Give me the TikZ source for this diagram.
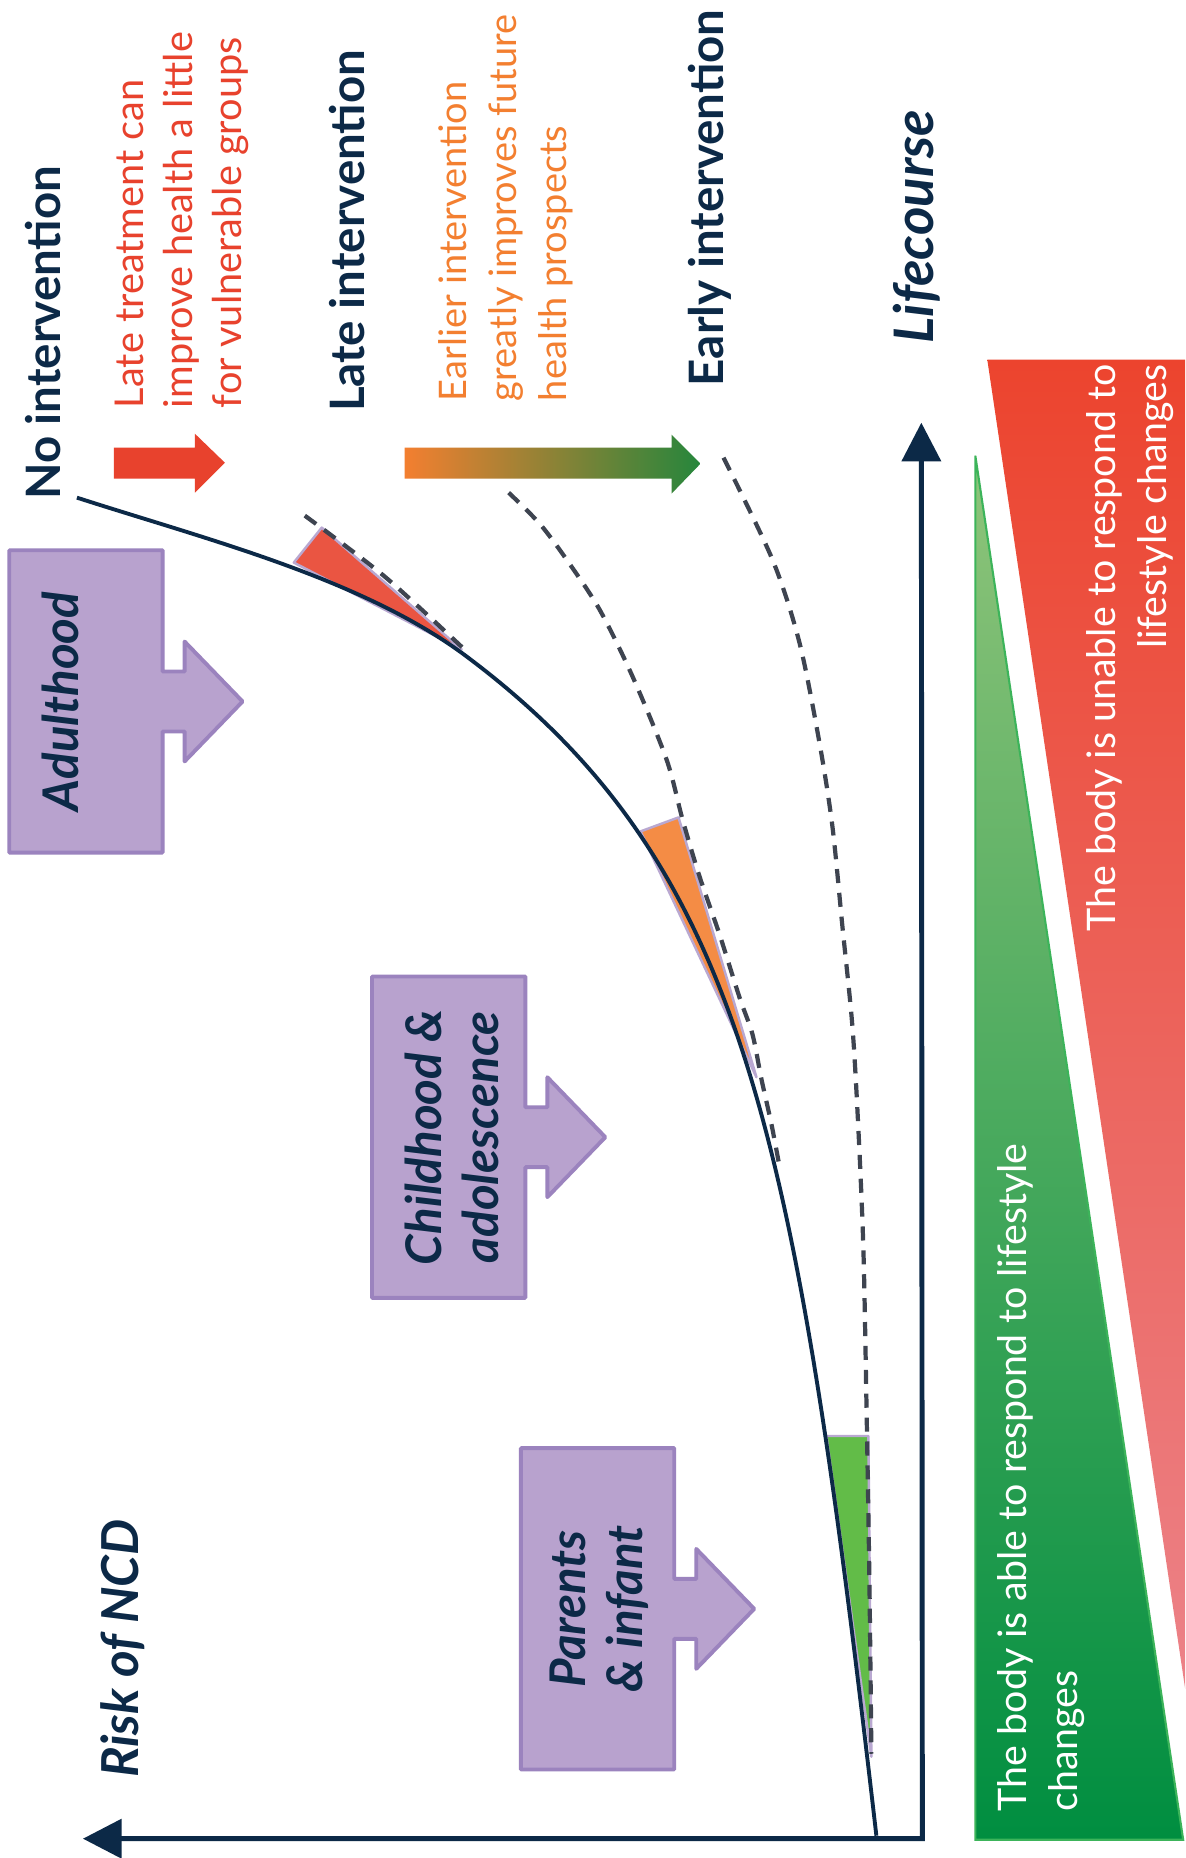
\documentclass[tikz,border=0pt]{standalone}
\usepackage{fontspec}
\setmainfont{Lato}
\usepackage{tikz}
\usetikzlibrary{arrows.meta,calc,positioning}
\usepackage{xcolor}
\definecolor{Marine}{RGB}{12,41,71}
\definecolor{Tomate}{RGB}{232,66,45}
\definecolor{Mandarine}{RGB}{243,127,48}
\definecolor{Sauge}{RGB}{158,194,128}
\definecolor{Sapin}{RGB}{38,134,60}
\definecolor{Lilas}{RGB}{184,162,206}
\definecolor{LilasTrait}{RGB}{155,131,190}
\definecolor{Ardoise}{RGB}{62,68,80}
\definecolor{Pousse}{RGB}{143,196,122}
\definecolor{Prairie}{RGB}{66,166,76}
\definecolor{Foret}{RGB}{0,142,64}
\definecolor{Lisere}{RGB}{60,180,90}
\definecolor{Braise}{RGB}{236,68,46}
\definecolor{Corail}{RGB}{240,100,96}
\definecolor{Rose}{RGB}{236,130,136}
\definecolor{Bourgeon}{RGB}{98,188,72}

\begin{document}
\begin{tikzpicture}[x=0.01cm, y=-0.01cm,
  axis/.style={line width=1.4pt, color=Marine, {Triangle[length=11pt,width=11pt]}-{Triangle[length=11pt,width=11pt]}},
  heading/.style={rotate=90, inner sep=0pt, text=Marine, font=\bfseries\fontsize{13.5}{15}\selectfont},
  axislabel/.style={rotate=90, inner sep=0pt, text=Marine, font=\bfseries\itshape\fontsize{14.5}{16}\selectfont},
  note/.style={rotate=90, inner sep=0pt, align=left, font=\fontsize{11.3}{14}\selectfont},
  bodytext/.style={rotate=90, inner sep=0pt, text=white, font=\fontsize{11.2}{14.5}\selectfont},
  stage/.style={inner sep=0pt, minimum width=1.52cm},
  stageshape/.style={draw=LilasTrait, fill=Lilas, line width=1.1pt, line join=round},
  stagetext/.style={rotate=90, inner sep=0pt, align=center, text=Marine, font=\bfseries\itshape\fontsize{14}{16.3}\selectfont},
  wedge/.style={draw=LilasTrait!70, line width=0.7pt, line join=round},
  scenario/.style={dash pattern=on 4pt off 2.8pt, line width=1.2pt, color=Ardoise},
]
\path[fill=white] (0,0) rectangle (1186,1858);
%
% body response triangles
\draw[Lisere, line width=0.6pt, top color=Pousse, middle color=Prairie, bottom color=Foret] (976,456) -- (976,1841) -- (1184,1841) -- cycle;
\path[top color=Braise, middle color=Corail, bottom color=Rose] (988,360) -- (1186,360) -- (1186,1690) -- cycle;
\node[bodytext, align=left, anchor=west] (able) at (1042,1813) {The body is able to respond to lifestyle\\changes};
\node[bodytext, align=right, anchor=east] (unable) at (1131,364) {The body is unable to respond to\\lifestyle changes};
%
% intervention arrows
\fill[Tomate] (114,448) -- (195,448) -- (195,434) -- (225,463) -- (195,493) -- (195,479) -- (114,479) -- cycle;
\path[left color=Mandarine, middle color=Sauge, right color=Sapin] (405,448) -- (672,448) -- (672,435) -- (701,464) -- (672,494) -- (672,479) -- (405,479) -- cycle;
%
% wedges between curves
\draw[wedge, fill=Tomate!90!white] (294,563) -- (322,528) -- (462,650) -- cycle;
\draw[wedge, fill=Mandarine!90!white] (641,832) -- (679,818) -- (757,1078) -- cycle;
\draw[wedge, fill=Bourgeon] (827,1437) -- (869,1437) -- (872,1758) -- cycle;
%
% risk curves
\draw[scenario] plot[smooth] coordinates {(305,516) (385,577) (467,652)};
\draw[scenario] plot[smooth] coordinates {(509,493) (540,524) (567,560) (600,610) (633,677) (667,760) (683,820) (700,877) (720,935) (740,998) (753,1035) (762,1080) (772,1125) (780,1167)};
\draw[scenario] plot[smooth] coordinates {(724,458) (773,560) (800,643) (820,743) (833,827) (843,927) (853,1027) (859,1130) (864,1250) (867,1400) (870,1580) (872,1755)};
\draw[Marine, line width=1.1pt] (77,498) .. controls (207,540) and (363,579) .. (467,657) .. controls (747,867) and (796,1137) .. (877,1837);
%
% axes
\coordinate (origin) at (923,1840);
\coordinate (lifeend) at (922,423);
\coordinate (riskend) at (83,1840);
\draw[axis] (lifeend) -- (origin) -- (riskend);
\node[axislabel, font=\bfseries\itshape\fontsize{15.5}{17}\selectfont] (life) at (917,227) {Lifecourse};
\node[axislabel] (risk) at (123,1650) {Risk of NCD};
%
% headings and notes
\node[heading] (none) at (43,333) {No intervention};
\node[note, text=Tomate, anchor=west] (latenote) at (182,409) {Late treatment can\\improve health a little\\for vulnerable groups};
\node[heading] (late) at (347,231) {Late intervention};
\node[note, text=Mandarine, anchor=west, font=\fontsize{10.8}{14.2}\selectfont] (earlynote) at (506,402) {Earlier intervention\\greatly improves future\\health prospects};
\node[heading] (early) at (710,198) {Early intervention};
%
% life stages
\node[stage, minimum height=3.01cm] (adult) at (86,702) {};
\node[stage, minimum height=3.2cm] (child) at (449,1138) {};
\node[stage, minimum height=3.2cm] (infant) at (598,1610) {};
\draw[stageshape] (adult.north west) -- (adult.north east) -- ($(adult.east)+(0,-30)$) -- ++(22,0) -- ++(0,-30) -- ++(58,60) -- ++(-58,60) -- ++(0,-30) -- ++(-22,0) -- (adult.south east) -- (adult.south west) -- cycle;
\draw[stageshape] (child.north west) -- (child.north east) -- ($(child.east)+(0,-30)$) -- ++(22,0) -- ++(0,-30) -- ++(58,60) -- ++(-58,60) -- ++(0,-30) -- ++(-22,0) -- (child.south east) -- (child.south west) -- cycle;
\draw[stageshape] (infant.north west) -- (infant.north east) -- ($(infant.east)+(0,-30)$) -- ++(22,0) -- ++(0,-30) -- ++(58,60) -- ++(-58,60) -- ++(0,-30) -- ++(-22,0) -- (infant.south east) -- (infant.south west) -- cycle;
\node[stagetext] (adulttext) at (60,702) {Adulthood};
\node[stagetext] (childtext) at (452,1138) {Childhood \&\\adolescence};
\node[stagetext] (infanttext) at (600,1610) {Parents\\\& infant};
%
\end{tikzpicture}
\end{document}
